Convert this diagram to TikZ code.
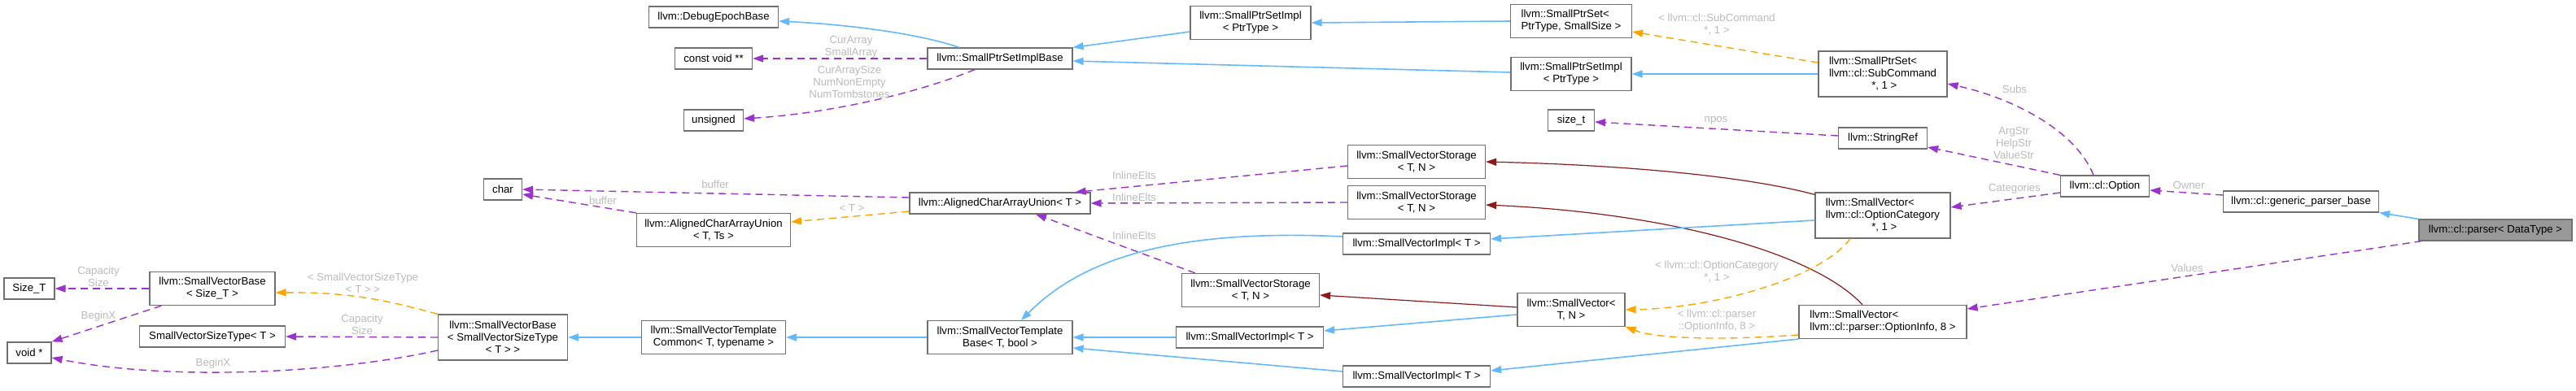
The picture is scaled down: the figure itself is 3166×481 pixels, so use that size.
\documentclass[tikz,border=0pt]{standalone}
\usepackage{fontspec}
\usepackage{calc}
\setmainfont{Liberation Sans}
\usetikzlibrary{arrows.meta}
\definecolor{boxgray}{HTML}{707070}
\definecolor{curfill}{HTML}{999999}
\definecolor{lblgray}{HTML}{BBBBBB}
\definecolor{inhblue}{HTML}{63B8FF}
\definecolor{usepurple}{HTML}{9A32CD}
\definecolor{tmplorange}{HTML}{FFA500}
\definecolor{compred}{HTML}{8B1A1A}
\tikzset{
 cls/.style={draw=boxgray, fill=white, line width=0.6pt, inner sep=0pt, align=center, font=\fontsize{6.6}{7.5}\selectfont, text=black},
 lbl/.style={text=lblgray, inner sep=0pt, align=center, font=\fontsize{6.6}{7.5}\selectfont},
 tipE/.style={-{Triangle[length=6.5pt,width=4.5pt]}},
 inhE/.style={tipE, draw=inhblue, line width=0.8pt},
 useE/.style={tipE, draw=usepurple, line width=0.7pt, dash pattern=on 4.5pt off 3pt},
 tmplE/.style={tipE, draw=tmplorange, line width=0.7pt, dash pattern=on 4.5pt off 3pt},
 compE/.style={tipE, draw=compred, line width=0.6pt},
}
\begin{document}
\begin{tikzpicture}[x=0.5pt,y=-0.5pt]
\useasboundingbox (0,0) rectangle (3166,481);
% nodes
\node[cls,minimum width=31pt,minimum height=13pt] (sizeT) at (36,355) {Size\_T};
\node[cls,minimum width=27pt,minimum height=13pt] (voidp) at (36,434) {void *};
\node[cls,minimum width=77pt,minimum height=20.5pt] (svsize) at (261,355) {llvm::SmallVectorBase\\< Size\_T >};
\node[cls,minimum width=89.5pt,minimum height=13pt] (svst) at (261,414) {SmallVectorSizeType< T >};
\node[cls,minimum width=79.5pt,minimum height=28pt] (svsst) at (618,415) {llvm::SmallVectorBase\\< SmallVectorSizeType\\< T > >};
\node[cls,minimum width=23.5pt,minimum height=13pt] (char) at (618,233) {char};
\node[cls,minimum width=79.5pt,minimum height=13pt] (debug) at (877,21) {llvm::DebugEpochBase};
\node[cls,minimum width=47.5pt,minimum height=13pt] (cvoid) at (877,72) {const void **};
\node[cls,minimum width=36.5pt,minimum height=13pt] (unsig) at (877,148) {unsigned};
\node[cls,minimum width=94.5pt,minimum height=20.5pt] (acautts) at (877,283) {llvm::AlignedCharArrayUnion\\< T, Ts >};
\node[cls,minimum width=88.5pt,minimum height=20.5pt] (svtc) at (877,415) {llvm::SmallVectorTemplate\\Common< T, typename >};
\node[cls,minimum width=89pt,minimum height=13pt] (spsib) at (1229,72) {llvm::SmallPtrSetImplBase};
\node[cls,minimum width=111pt,minimum height=13pt] (acaut) at (1229,250) {llvm::AlignedCharArrayUnion< T >};
\node[cls,minimum width=89pt,minimum height=20.5pt] (svtb) at (1229,415) {llvm::SmallVectorTemplate\\Base< T, bool >};
\node[cls,minimum width=74pt,minimum height=20.5pt] (spsia) at (1537,28) {llvm::SmallPtrSetImpl\\< PtrType >};
\node[cls,minimum width=84.5pt,minimum height=20.5pt] (svsc) at (1537,357) {llvm::SmallVectorStorage\\< T, N >};
\node[cls,minimum width=90.5pt,minimum height=13pt] (svib) at (1536,415) {llvm::SmallVectorImpl< T >};
\node[cls,minimum width=84.5pt,minimum height=20.5pt] (svsa) at (1741,199) {llvm::SmallVectorStorage\\< T, N >};
\node[cls,minimum width=84.5pt,minimum height=20.5pt] (svsb) at (1741,249) {llvm::SmallVectorStorage\\< T, N >};
\node[cls,minimum width=90.5pt,minimum height=13pt] (svia) at (1741,300) {llvm::SmallVectorImpl< T >};
\node[cls,minimum width=90.5pt,minimum height=13pt] (svic) at (1741,463) {llvm::SmallVectorImpl< T >};
\node[cls,align=left,minimum width=74.5pt,minimum height=20.5pt] (sps) at (1931,26) {llvm::SmallPtrSet<\\PtrType, SmallSize >};
\node[cls,minimum width=74pt,minimum height=20.5pt] (spsic) at (1931,91) {llvm::SmallPtrSetImpl\\< PtrType >};
\node[cls,minimum width=28.5pt,minimum height=13pt] (sizet) at (1931,148) {size\_t};
\node[cls,minimum width=66pt,minimum height=20.5pt] (svtn) at (1931,381) {llvm::SmallVector<\\T, N >};
\node[cls,align=left,minimum width=79pt,minimum height=28pt] (spssub) at (2314,91) {llvm::SmallPtrSet<\\llvm::cl::SubCommand\\\makebox[\widthof{llvm::cl::SubCommand}][c]{ *, 1 >}};
\node[cls,minimum width=54.5pt,minimum height=13pt] (sref) at (2314,170) {llvm::StringRef};
\node[cls,align=left,minimum width=83pt,minimum height=28pt] (svcat) at (2314,265) {llvm::SmallVector<\\llvm::cl::OptionCategory\\\makebox[\widthof{llvm::cl::OptionCategory}][c]{ *, 1 >}};
\node[cls,align=left,minimum width=103pt,minimum height=20.5pt] (svinfo) at (2314,396) {llvm::SmallVector<\\llvm::cl::parser::OptionInfo, 8 >};
\node[cls,minimum width=54.5pt,minimum height=13pt] (opt) at (2587,229) {llvm::cl::Option};
\node[cls,minimum width=95.5pt,minimum height=13pt] (gpb) at (2828,248) {llvm::cl::generic\_parser\_base};
\node[cls,fill=curfill,minimum width=94pt,minimum height=13pt] (parser) at (3067,283) {llvm::cl::parser< DataType >};
% edges
\draw[useE] (svsize.west) -- (sizeT.east);
\draw[useE] ([xshift=7.5pt]svsize.south west) -- (voidp.north east);
\draw[tmplE] (svsst.north west) to[bend right=8] ([yshift=-2.5pt]svsize.east);
\draw[useE] (svsst.west) -- (svst.east);
\draw[useE] ([yshift=-8pt]svsst.west) .. controls +(-120,27) and +(150,30) .. ([yshift=-3pt]voidp.east);
\draw[inhE] (svtc.west) -- (svsst.east);
\draw[useE] ([yshift=3.5pt]acaut.west) -- (char.east);
\draw[useE] (acautts.north west) -- ([yshift=-3pt]char.east);
\draw[tmplE] ([yshift=-5pt]acaut.west) -- ([yshift=5pt]acautts.east);
\draw[inhE] ([xshift=-25pt]spsib.north) .. controls +(-49,-17) and +(84,4) .. ([yshift=-2.5pt]debug.east);
\draw[useE] (spsib.west) -- (cvoid.east);
\draw[useE] ([xshift=-15.5pt]spsib.south) .. controls +(-78,32) and +(97,-6) .. ([yshift=1pt]unsig.east);
\draw[inhE] ([yshift=-5.5pt]spsia.west) -- (spsib.north east);
\draw[inhE] ([yshift=1pt]spsic.west) -- ([yshift=-1.5pt]spsib.east);
\draw[inhE] (sps.west) -- (spsia.east);
\draw[tmplE] ([yshift=7pt]spssub.west) -- ([yshift=-6.5pt]sps.east);
\draw[inhE] (spssub.west) -- (spsic.east);
\draw[useE] ([yshift=1.5pt]sref.west) -- ([yshift=-1pt]sizet.east);
\draw[useE] ([yshift=-2.5pt]svsa.west) -- ([xshift=-9.5pt]acaut.north east);
\draw[useE] (svsb.west) -- (acaut.east);
\draw[useE] ([xshift=8.5pt]svsc.north west) -- ([xshift=22pt]acaut.south);
\draw[inhE] ([yshift=4.5pt]svia.west) .. controls +(-231,-11) and +(65,-65) .. ([xshift=13pt]svtb.north);
\draw[inhE] (svib.west) -- (svtb.east);
\draw[inhE] ([yshift=3pt]svic.west) -- ([yshift=-6.5pt]svtb.east);
\draw[inhE] (svtb.west) -- (svtc.east);
\draw[compE] ([yshift=-1.5pt]svcat.north west) .. controls +(-81,-22) and +(174,4) .. (svsa.east);
\draw[compE] ([xshift=-12.5pt]svinfo.north) .. controls +(-59,-64) and +(224,10) .. ([yshift=-1.5pt]svsb.east);
\draw[inhE] ([yshift=-3pt]svcat.west) -- ([yshift=3pt]svia.east);
\draw[compE] ([yshift=1.5pt]svtn.west) -- ([yshift=-3pt]svsc.east);
\draw[inhE] ([yshift=-3pt]svtn.west) -- ([yshift=4pt]svib.east);
\draw[tmplE] ([xshift=-20pt]svcat.south) .. controls +(-34,47) and +(113,-2) .. (svtn.east);
\draw[tmplE] ([yshift=-8pt]svinfo.west) .. controls +(-81,6) and +(43,16) .. (svtn.south east);
\draw[inhE] (svinfo.south west) -- ([yshift=3.5pt]svic.east);
\draw[useE] ([xshift=-7pt]opt.north) .. controls +(-23,-57) and +(77,17) .. ([yshift=-6pt]spssub.east);
\draw[useE] (opt.north west) -- ([yshift=-5.5pt]sref.east);
\draw[useE] ([yshift=-4pt]opt.west) -- ([yshift=5pt]svcat.east);
\draw[useE] ([yshift=4pt]gpb.west) -- ([yshift=-2.5pt]opt.east);
\draw[inhE] (parser.north west) -- (gpb.south east);
\draw[useE] ([xshift=2pt]parser.south west) -- ([yshift=8pt]svinfo.east);
% labels
\node[lbl] (l1) at (121,340) {Capacity\\Size};
\node[lbl] (l2) at (121,389) {BeginX};
\node[lbl] (l3) at (446,348) {< SmallVectorSizeType\\< T > >};
\node[lbl] (l4) at (445,399) {Capacity\\Size};
\node[lbl] (l5) at (262,447) {BeginX};
\node[lbl] (l6) at (741,247) {buffer};
\node[lbl] (l7) at (879,227) {buffer};
\node[lbl] (l8) at (1047,256) {< T >};
\node[lbl] (l9) at (1046,58) {CurArray\\SmallArray};
\node[lbl] (l10) at (1044,101) {CurArraySize\\NumNonEmpty\\NumTombstones};
\node[lbl] (l11) at (1394,216) {InlineElts};
\node[lbl] (l12) at (1394,243) {InlineElts};
\node[lbl] (l13) at (1394,290) {InlineElts};
\node[lbl] (l14) at (2110,30) {< llvm::cl::SubCommand\\ *, 1 >};
\node[lbl] (l15) at (2109,148) {npos};
\node[lbl] (l16) at (2110,334) {< llvm::cl::OptionCategory\\ *, 1 >};
\node[lbl] (l17) at (2110,395) {< llvm::cl::parser\\::OptionInfo, 8 >};
\node[lbl] (l18) at (2476,110) {Subs};
\node[lbl] (l19) at (2475,176) {ArgStr\\HelpStr\\ValueStr};
\node[lbl] (l20) at (2476,232) {Categories};
\node[lbl] (l21) at (2690,228) {Owner};
\node[lbl] (l22) at (2688,330) {Values};
\end{tikzpicture}
\end{document}
